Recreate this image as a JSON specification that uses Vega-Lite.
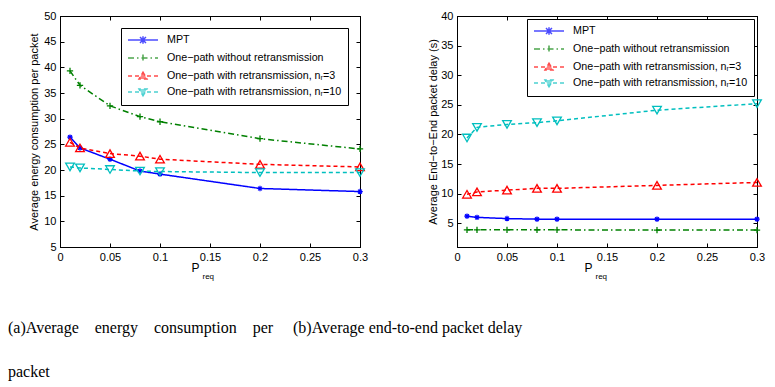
{
  "$schema": "https://vega.github.io/schema/vega-lite/v6.json",
  "background": "white",
  "padding": {"left": 7, "top": 9, "right": 0, "bottom": 0},
  "bounds": "flush",
  "spacing": 97,
  "datasets": {
    "energy": [
      {"series": "MPT", "p": 0.01, "v": 26.4}, {"series": "MPT", "p": 0.02, "v": 24.3}, {"series": "MPT", "p": 0.05, "v": 22.1}, {"series": "MPT", "p": 0.08, "v": 19.8}, {"series": "MPT", "p": 0.1, "v": 19.2}, {"series": "MPT", "p": 0.2, "v": 16.4}, {"series": "MPT", "p": 0.3, "v": 15.8},
      {"series": "One−path without retransmission", "p": 0.01, "v": 39.3}, {"series": "One−path without retransmission", "p": 0.02, "v": 36.5}, {"series": "One−path without retransmission", "p": 0.05, "v": 32.5}, {"series": "One−path without retransmission", "p": 0.08, "v": 30.4}, {"series": "One−path without retransmission", "p": 0.1, "v": 29.4}, {"series": "One−path without retransmission", "p": 0.2, "v": 26.1}, {"series": "One−path without retransmission", "p": 0.3, "v": 24.1},
      {"series": "One−path with retransmission, nᵣ=3", "p": 0.01, "v": 25.4}, {"series": "One−path with retransmission, nᵣ=3", "p": 0.02, "v": 24.3}, {"series": "One−path with retransmission, nᵣ=3", "p": 0.05, "v": 23.2}, {"series": "One−path with retransmission, nᵣ=3", "p": 0.08, "v": 22.7}, {"series": "One−path with retransmission, nᵣ=3", "p": 0.1, "v": 22.1}, {"series": "One−path with retransmission, nᵣ=3", "p": 0.2, "v": 21.1}, {"series": "One−path with retransmission, nᵣ=3", "p": 0.3, "v": 20.6},
      {"series": "One−path with retransmission, nᵣ=10", "p": 0.01, "v": 20.6}, {"series": "One−path with retransmission, nᵣ=10", "p": 0.02, "v": 20.4}, {"series": "One−path with retransmission, nᵣ=10", "p": 0.05, "v": 20.1}, {"series": "One−path with retransmission, nᵣ=10", "p": 0.08, "v": 19.8}, {"series": "One−path with retransmission, nᵣ=10", "p": 0.1, "v": 19.7}, {"series": "One−path with retransmission, nᵣ=10", "p": 0.2, "v": 19.5}, {"series": "One−path with retransmission, nᵣ=10", "p": 0.3, "v": 19.5}
    ],
    "delay": [
      {"series": "MPT", "p": 0.01, "v": 6.2}, {"series": "MPT", "p": 0.02, "v": 6.0}, {"series": "MPT", "p": 0.05, "v": 5.8}, {"series": "MPT", "p": 0.08, "v": 5.7}, {"series": "MPT", "p": 0.1, "v": 5.7}, {"series": "MPT", "p": 0.2, "v": 5.7}, {"series": "MPT", "p": 0.3, "v": 5.7},
      {"series": "One−path without retransmission", "p": 0.01, "v": 3.9}, {"series": "One−path without retransmission", "p": 0.02, "v": 3.9}, {"series": "One−path without retransmission", "p": 0.05, "v": 3.9}, {"series": "One−path without retransmission", "p": 0.08, "v": 3.9}, {"series": "One−path without retransmission", "p": 0.1, "v": 3.9}, {"series": "One−path without retransmission", "p": 0.2, "v": 3.85}, {"series": "One−path without retransmission", "p": 0.3, "v": 3.85},
      {"series": "One−path with retransmission, nᵣ=3", "p": 0.01, "v": 9.9}, {"series": "One−path with retransmission, nᵣ=3", "p": 0.02, "v": 10.3}, {"series": "One−path with retransmission, nᵣ=3", "p": 0.05, "v": 10.6}, {"series": "One−path with retransmission, nᵣ=3", "p": 0.08, "v": 10.9}, {"series": "One−path with retransmission, nᵣ=3", "p": 0.1, "v": 10.9}, {"series": "One−path with retransmission, nᵣ=3", "p": 0.2, "v": 11.4}, {"series": "One−path with retransmission, nᵣ=3", "p": 0.3, "v": 11.9},
      {"series": "One−path with retransmission, nᵣ=10", "p": 0.01, "v": 19.4}, {"series": "One−path with retransmission, nᵣ=10", "p": 0.02, "v": 21.2}, {"series": "One−path with retransmission, nᵣ=10", "p": 0.05, "v": 21.7}, {"series": "One−path with retransmission, nᵣ=10", "p": 0.08, "v": 22.0}, {"series": "One−path with retransmission, nᵣ=10", "p": 0.1, "v": 22.3}, {"series": "One−path with retransmission, nᵣ=10", "p": 0.2, "v": 24.1}, {"series": "One−path with retransmission, nᵣ=10", "p": 0.3, "v": 25.2}
    ]
  },
  "config": {
    "font": "Liberation Sans",
    "view": {"stroke": "black", "strokeWidth": 1},
    "axis": {"grid": false, "labelFont": "Liberation Sans", "labelFontSize": 11, "labelColor": "black", "titleFont": "Liberation Sans", "titleFontSize": 11, "titleFontWeight": "normal", "titleColor": "black", "tickColor": "black", "domainColor": "black", "tickSize": -4, "labelPadding": 8, "labelFlush": false, "labelOverlap": false},
    "legend": {"labelFont": "Liberation Sans", "labelFontSize": 10.7, "labelColor": "black", "labelLimit": 400}
  },
  "resolve": {
    "scale": {"color": "independent", "shape": "independent", "fill": "independent", "strokeDash": "independent"},
    "legend": {"color": "independent", "shape": "independent", "fill": "independent", "strokeDash": "independent"}
  },
  "hconcat": [
    {
      "width": 300, "height": 231,
      "data": {"name": "energy"},
      "title": {"text": ["(a)Average\u00a0\u00a0\u00a0\u00a0energy\u00a0\u00a0\u00a0\u00a0consumption\u00a0\u00a0\u00a0\u00a0per", "packet"], "orient": "bottom", "anchor": "start", "frame": "group", "dx": -52, "offset": 40, "font": "Liberation Serif", "fontSize": 16, "fontWeight": "normal", "color": "black", "lineHeight": 44},
      "layer": [
        {
          "mark": {"type": "line", "strokeWidth": 1.5},
          "encoding": {
            "x": {"field": "p", "type": "quantitative", "scale": {"domain": [0, 0.3], "nice": false}, "axis": {"title": "P", "values": [0, 0.05, 0.1, 0.15, 0.2, 0.25, 0.3], "format": "~g", "titleX": 135, "titleY": 20, "titleBaseline": "middle", "titleAlign": "center", "titleFontSize": 12}},
            "y": {"field": "v", "type": "quantitative", "scale": {"domain": [5, 50], "nice": false, "zero": false}, "axis": {"title": "Average energy consumption per packet", "values": [5, 10, 15, 20, 25, 30, 35, 40, 45, 50], "titlePadding": 4}},
            "color": {"field": "series", "type": "nominal", "scale": {"domain": ["MPT", "One−path without retransmission", "One−path with retransmission, nᵣ=3", "One−path with retransmission, nᵣ=10"], "range": ["#0000ff", "#008000", "#ff0000", "#00bfbf"]},
              "legend": {"title": null, "orient": "top-right", "offset": 12, "fillColor": "white", "strokeColor": "black", "padding": 6, "rowPadding": 4, "symbolSize": 100, "symbolStrokeWidth": 1.5, "symbolOffset": 10, "labelOffset": 18}},
            "strokeDash": {"field": "series", "type": "nominal", "scale": {"domain": ["MPT", "One−path without retransmission", "One−path with retransmission, nᵣ=3", "One−path with retransmission, nᵣ=10"], "range": [[1, 0], [6, 3, 1.5, 3], [4, 3], [4, 3]]}}
          }
        },
        {
          "transform": [{"filter": {"field": "series", "equal": "MPT"}}],
          "mark": {"type": "point", "shape": "M-1,0H1M0,-1V1M-0.7,-0.7L0.7,0.7M-0.7,0.7L0.7,-0.7", "size": 30, "color": "#0000ff", "filled": false, "strokeWidth": 1.2, "opacity": 1},
          "encoding": {
            "x": {"field": "p", "type": "quantitative", "axis": {"orient": "top", "title": "req", "values": [0, 0.05, 0.1, 0.15, 0.2, 0.25, 0.3], "labels": false, "titleX": 142, "titleY": 260, "titleAlign": "left", "titleBaseline": "middle", "titleFontSize": 8}},
            "y": {"field": "v", "type": "quantitative", "axis": {"orient": "right", "title": null, "labels": false, "values": [5, 10, 15, 20, 25, 30, 35, 40, 45, 50]}}
          }
        },
        {
          "transform": [{"filter": {"field": "series", "equal": "One−path without retransmission"}}],
          "mark": {"type": "point", "shape": "M-1,0H1M0,-1V1", "size": 40, "color": "#008000", "filled": false, "strokeWidth": 1.3, "opacity": 1},
          "encoding": {"x": {"field": "p", "type": "quantitative", "axis": null}, "y": {"field": "v", "type": "quantitative", "axis": null}}
        },
        {
          "transform": [{"filter": {"field": "series", "equal": "One−path with retransmission, nᵣ=3"}}],
          "mark": {"type": "point", "shape": "triangle-up", "size": 75, "color": "#ff0000", "filled": false, "strokeWidth": 1.3, "opacity": 1},
          "encoding": {"x": {"field": "p", "type": "quantitative", "axis": null}, "y": {"field": "v", "type": "quantitative", "axis": null}}
        },
        {
          "transform": [{"filter": {"field": "series", "equal": "One−path with retransmission, nᵣ=10"}}],
          "mark": {"type": "point", "shape": "triangle-down", "size": 75, "color": "#00bfbf", "filled": false, "strokeWidth": 1.3, "opacity": 1},
          "encoding": {"x": {"field": "p", "type": "quantitative", "axis": null}, "y": {"field": "v", "type": "quantitative", "axis": null}}
        },
        {
          "transform": [{"filter": "datum.p < 0"}],
          "mark": {"type": "point"},
          "encoding": {
            "x": {"field": "p", "type": "quantitative", "axis": null},
            "y": {"field": "v", "type": "quantitative", "axis": null},
            "color": {"field": "series", "type": "nominal"},
            "shape": {"field": "series", "type": "nominal", "scale": {"domain": ["MPT", "One−path without retransmission", "One−path with retransmission, nᵣ=3", "One−path with retransmission, nᵣ=10"], "range": ["M-3,0H3M-0.6,-0.6L0.6,0.6M-0.6,0.6L0.6,-0.6M0,-0.75V0.75", "M-3,0H3M0,-0.7V0.7", "M-3,0H-0.8M0.8,0H3M0,-0.75L0.8,0.6L-0.8,0.6Z", "M-3,0H-0.8M0.8,0H3M0,0.75L0.8,-0.6L-0.8,-0.6Z"]}},
            "fill": {"field": "series", "type": "nominal", "scale": {"domain": ["MPT", "One−path without retransmission", "One−path with retransmission, nᵣ=3", "One−path with retransmission, nᵣ=10"], "range": ["#0000ff", "#008000", "#ff0000", "#00bfbf"]}}
          }
        }
      ],
      "resolve": {"axis": {"x": "independent", "y": "independent"}}
    },
    {
      "width": 300, "height": 231,
      "data": {"name": "delay"},
      "title": {"text": "(b)Average end-to-end packet delay", "orient": "bottom", "anchor": "start", "frame": "group", "dx": -164, "offset": 40, "font": "Liberation Serif", "fontSize": 16, "fontWeight": "normal", "color": "black", "lineHeight": 44},
      "layer": [
        {
          "mark": {"type": "line", "strokeWidth": 1.5},
          "encoding": {
            "x": {"field": "p", "type": "quantitative", "scale": {"domain": [0, 0.3], "nice": false}, "axis": {"title": "P", "values": [0, 0.05, 0.1, 0.15, 0.2, 0.25, 0.3], "format": "~g", "titleX": 131, "titleY": 20, "titleBaseline": "middle", "titleAlign": "center", "titleFontSize": 12}},
            "y": {"field": "v", "type": "quantitative", "scale": {"domain": [1, 40], "nice": false, "zero": false}, "axis": {"title": "Average End−to−End packet delay (s)", "values": [5, 10, 15, 20, 25, 30, 35, 40], "titlePadding": 2}},
            "color": {"field": "series", "type": "nominal", "scale": {"domain": ["MPT", "One−path without retransmission", "One−path with retransmission, nᵣ=3", "One−path with retransmission, nᵣ=10"], "range": ["#0000ff", "#008000", "#ff0000", "#00bfbf"]},
              "legend": {"title": null, "orient": "top-right", "offset": 3, "fillColor": "white", "strokeColor": "black", "padding": 6, "rowPadding": 4, "symbolSize": 100, "symbolStrokeWidth": 1.5, "symbolOffset": 10, "labelOffset": 18}},
            "strokeDash": {"field": "series", "type": "nominal", "scale": {"domain": ["MPT", "One−path without retransmission", "One−path with retransmission, nᵣ=3", "One−path with retransmission, nᵣ=10"], "range": [[1, 0], [6, 3, 1.5, 3], [4, 3], [4, 3]]}}
          }
        },
        {
          "transform": [{"filter": {"field": "series", "equal": "MPT"}}],
          "mark": {"type": "point", "shape": "M-1,0H1M0,-1V1M-0.7,-0.7L0.7,0.7M-0.7,0.7L0.7,-0.7", "size": 30, "color": "#0000ff", "filled": false, "strokeWidth": 1.2, "opacity": 1},
          "encoding": {
            "x": {"field": "p", "type": "quantitative", "axis": {"orient": "top", "title": "req", "values": [0, 0.05, 0.1, 0.15, 0.2, 0.25, 0.3], "labels": false, "titleX": 138, "titleY": 260, "titleAlign": "left", "titleBaseline": "middle", "titleFontSize": 8}},
            "y": {"field": "v", "type": "quantitative", "axis": {"orient": "right", "title": null, "labels": false, "values": [5, 10, 15, 20, 25, 30, 35, 40]}}
          }
        },
        {
          "transform": [{"filter": {"field": "series", "equal": "One−path without retransmission"}}],
          "mark": {"type": "point", "shape": "M-1,0H1M0,-1V1", "size": 40, "color": "#008000", "filled": false, "strokeWidth": 1.3, "opacity": 1},
          "encoding": {"x": {"field": "p", "type": "quantitative", "axis": null}, "y": {"field": "v", "type": "quantitative", "axis": null}}
        },
        {
          "transform": [{"filter": {"field": "series", "equal": "One−path with retransmission, nᵣ=3"}}],
          "mark": {"type": "point", "shape": "triangle-up", "size": 75, "color": "#ff0000", "filled": false, "strokeWidth": 1.3, "opacity": 1},
          "encoding": {"x": {"field": "p", "type": "quantitative", "axis": null}, "y": {"field": "v", "type": "quantitative", "axis": null}}
        },
        {
          "transform": [{"filter": {"field": "series", "equal": "One−path with retransmission, nᵣ=10"}}],
          "mark": {"type": "point", "shape": "triangle-down", "size": 75, "color": "#00bfbf", "filled": false, "strokeWidth": 1.3, "opacity": 1},
          "encoding": {"x": {"field": "p", "type": "quantitative", "axis": null}, "y": {"field": "v", "type": "quantitative", "axis": null}}
        },
        {
          "transform": [{"filter": "datum.p < 0"}],
          "mark": {"type": "point"},
          "encoding": {
            "x": {"field": "p", "type": "quantitative", "axis": null},
            "y": {"field": "v", "type": "quantitative", "axis": null},
            "color": {"field": "series", "type": "nominal"},
            "shape": {"field": "series", "type": "nominal", "scale": {"domain": ["MPT", "One−path without retransmission", "One−path with retransmission, nᵣ=3", "One−path with retransmission, nᵣ=10"], "range": ["M-3,0H3M-0.6,-0.6L0.6,0.6M-0.6,0.6L0.6,-0.6M0,-0.75V0.75", "M-3,0H3M0,-0.7V0.7", "M-3,0H-0.8M0.8,0H3M0,-0.75L0.8,0.6L-0.8,0.6Z", "M-3,0H-0.8M0.8,0H3M0,0.75L0.8,-0.6L-0.8,-0.6Z"]}},
            "fill": {"field": "series", "type": "nominal", "scale": {"domain": ["MPT", "One−path without retransmission", "One−path with retransmission, nᵣ=3", "One−path with retransmission, nᵣ=10"], "range": ["#0000ff", "#008000", "#ff0000", "#00bfbf"]}}
          }
        }
      ],
      "resolve": {"axis": {"x": "independent", "y": "independent"}}
    }
  ]
}
